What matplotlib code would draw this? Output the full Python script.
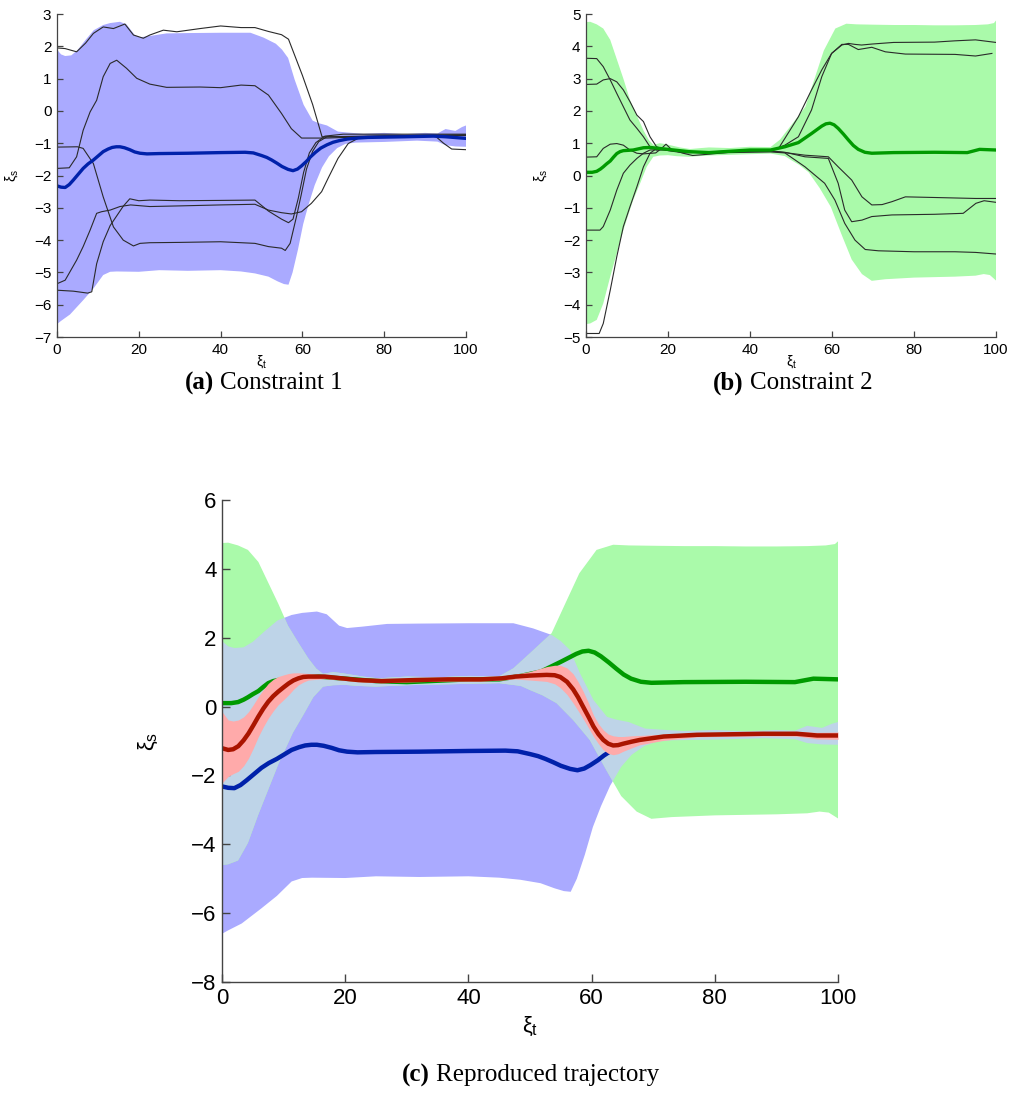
import numpy as np
import matplotlib
matplotlib.use("Agg")
import matplotlib.pyplot as plt

plt.rcParams["font.family"] = ["Liberation Sans", "DejaVu Sans"]
plt.rcParams["mathtext.fontset"] = "custom"
plt.rcParams["mathtext.rm"] = "Liberation Sans"
plt.rcParams["mathtext.it"] = "Liberation Sans"

# ---- constraint 1 (blue): band edges, mean, demonstrations ----
bx_up = [0, 1, 2, 3.5, 5, 7, 9, 11.3, 13, 15.4, 17, 19, 20.3, 22.7, 26.8, 32, 40, 47.3, 50.5,
         53.5, 55, 56.5, 58.1, 60.3, 62.5, 64, 66, 68.7, 71.2, 75, 80, 85, 90, 93, 95, 97.4, 99, 100]
by_up = [1.9, 1.75, 1.7, 1.72, 1.88, 2.2, 2.5, 2.66, 2.72, 2.76, 2.68, 2.35, 2.28, 2.32, 2.40, 2.41,
         2.42, 2.42, 2.27, 2.08, 1.9, 1.64, 0.97, 0.19, -0.3, -0.38, -0.45, -0.64, -0.67, -0.71,
         -0.68, -0.72, -0.68, -0.7, -0.56, -0.62, -0.5, -0.45]
bx_lo = [0, 1, 3.2, 6.4, 8.9, 11.3, 13, 14.6, 20, 25, 32, 40, 45, 48.4, 51.7, 54, 55.5, 56.6,
         57.6, 58.9, 60.2, 61.5, 63, 64.8, 66.5, 68.5, 70.5, 73, 80, 88, 93, 95, 97.4, 100]
by_lo = [-6.6, -6.5, -6.3, -5.86, -5.5, -5.08, -4.98, -4.97, -4.98, -4.93, -4.95, -4.93, -4.97,
         -5.03, -5.13, -5.28, -5.36, -5.38, -5.0, -4.3, -3.5, -2.9, -2.3, -1.75, -1.4, -1.15,
         -1.02, -0.98, -0.96, -0.92, -0.95, -1.06, -1.1, -1.11]
bmx = [0, 1, 2, 3, 4, 5.2, 6.4, 7.6, 8.9, 10.1, 11.3, 12.5, 13.5, 14.5, 15.4, 16.5, 17.8, 19,
       20.3, 22, 25, 32, 40, 46, 48, 50, 51.3, 52.5, 53.8, 55, 56.5, 57.7, 58.8, 59.8, 61, 62,
       63.2, 64.5, 66, 67.5, 69, 71, 73.5, 76, 85, 92, 95, 100]
bmy = [-2.32, -2.36, -2.37, -2.28, -2.14, -1.96, -1.78, -1.64, -1.52, -1.39, -1.26, -1.18, -1.13,
       -1.11, -1.11, -1.14, -1.2, -1.27, -1.31, -1.33, -1.32, -1.31, -1.29, -1.28, -1.3, -1.38,
       -1.44, -1.52, -1.62, -1.72, -1.81, -1.85, -1.8, -1.7, -1.56, -1.42, -1.28, -1.15, -1.05,
       -0.97, -0.92, -0.87, -0.84, -0.82, -0.8, -0.78, -0.8, -0.85]

a1x = [0, 2, 4.8, 7, 8.9, 11.3, 13.8, 16.6, 18.7, 21.1, 22.7, 26, 29.3, 35, 40, 45, 48.4, 51.7,
       54.9, 56.6, 60, 62.5, 64.8, 70, 75, 85, 92.5, 94.5, 96.5, 100]
a1y = [1.95, 1.93, 1.83, 2.1, 2.4, 2.6, 2.55, 2.69, 2.35, 2.25, 2.35, 2.5, 2.45, 2.55, 2.63, 2.58,
       2.58, 2.46, 2.36, 2.22, 1.1, 0.2, -0.8, -0.8, -0.79, -0.78, -0.78, -1.0, -1.18, -1.2]
a2x = [0, 3, 4.8, 6.4, 8.1, 9.7, 11.3, 13, 14.6, 17, 19.5, 22.7, 26.8, 35, 40, 45, 48.4, 51.7,
       54.9, 57.3, 59.8, 66, 80, 100]
a2y = [-1.78, -1.76, -1.42, -0.6, -0.03, 0.33, 1.06, 1.47, 1.57, 1.32, 1.01, 0.83, 0.73, 0.74,
       0.72, 0.8, 0.78, 0.49, -0.08, -0.55, -0.84, -0.84, -0.78, -0.74]
a3x = [0, 5, 6.4, 8.9, 11.3, 13.8, 16.2, 18.7, 20.3, 22.7, 30, 40, 48.4, 51.7, 54.9, 55.8, 57,
       58.5, 59.7, 61, 62.5, 64, 66, 80, 100]
a3y = [-1.12, -1.11, -1.16, -1.63, -2.66, -3.59, -4.0, -4.18, -4.1, -4.08, -4.07, -4.05, -4.1,
       -4.2, -4.25, -4.32, -4.1, -3.3, -2.6, -1.8, -1.25, -0.95, -0.8, -0.77, -0.75]
a4x = [0, 2, 4.8, 6.4, 8.1, 9.7, 10.9, 13, 15.4, 18, 22.7, 30, 40, 48.4, 51.7, 54.9, 57.3, 59.8,
       62.2, 64.7, 66.3, 68.7, 71.2, 73.6, 78, 90, 100]
a4y = [-5.35, -5.24, -4.62, -4.2, -3.69, -3.17, -3.12, -3.07, -2.96, -2.91, -2.96, -2.94, -2.91,
       -2.89, -3.07, -3.15, -3.19, -3.12, -2.86, -2.5, -2.08, -1.47, -1.01, -0.85, -0.82, -0.78, -0.76]
a5x = [0, 4, 7.5, 8.5, 9.7, 11.3, 13, 14.6, 16.2, 17.8, 20, 22.7, 30, 40, 48.4, 51.7, 54.9, 56.6,
       57.7, 59, 60.3, 61.7, 63.3, 65.5, 70, 85, 100]
a5y = [-5.55, -5.58, -5.64, -5.6, -4.73, -4.05, -3.55, -3.25, -2.95, -2.72, -2.78, -2.76, -2.78,
       -2.77, -2.76, -3.1, -3.35, -3.46, -3.35, -2.7, -1.9, -1.3, -0.98, -0.78, -0.72, -0.72, -0.72]

# ---- constraint 2 (green) ----
gx_up = [0, 1, 2.6, 4.2, 5.9, 7.5, 9.1, 10.7, 12.4, 14, 15.3, 16.4, 18, 19, 20.5, 22.9, 25.4, 28,
         30, 35, 40, 45, 47.3, 50, 53.5, 56, 58, 60.8, 63.5, 66, 70, 75, 80, 85, 90, 95, 98, 99.5, 100]
gy_up = [4.75, 4.76, 4.68, 4.55, 4.2, 3.6, 3.0, 2.35, 1.85, 1.4, 1.1, 0.95, 1.0, 0.98, 0.94, 0.87,
         0.82, 0.85, 0.87, 0.85, 0.89, 0.88, 1.11, 1.55, 2.13, 3.1, 3.87, 4.55, 4.7, 4.68, 4.67,
         4.66, 4.66, 4.65, 4.65, 4.66, 4.68, 4.72, 4.8]
gx_lo = [0, 1, 2.6, 4.2, 5.9, 7.5, 9.1, 11.5, 13.2, 14.8, 16.4, 18, 20, 22, 25, 30, 35, 40, 45,
         48.5, 50, 52, 54.3, 57, 59.7, 62.4, 64.8, 67.3, 69.7, 73, 80, 90, 95, 97, 98.5, 100]
gy_lo = [-4.6, -4.58, -4.47, -3.96, -3.13, -2.41, -1.69, -0.76, -0.24, 0.27, 0.58, 0.62, 0.63,
         0.6, 0.58, 0.62, 0.64, 0.66, 0.68, 0.6, 0.48, 0.33, 0.1, -0.39, -0.97, -1.85, -2.6,
         -3.05, -3.26, -3.21, -3.16, -3.13, -3.1, -3.05, -3.08, -3.25]
gmx = [0, 1.5, 2.6, 3.5, 4.2, 5, 5.9, 6.7, 7.5, 8.3, 9.1, 11.5, 14, 15.6, 20, 25, 30, 35, 40, 45,
       48.5, 51.8, 55, 57.5, 58.5, 59.5, 60.5, 61.5, 62.8, 64, 65.2, 66.4, 68, 69.7, 75, 85, 93,
       96, 100]
gmy = [0.1, 0.1, 0.13, 0.2, 0.27, 0.36, 0.45, 0.57, 0.68, 0.74, 0.77, 0.79, 0.86, 0.87, 0.81,
       0.74, 0.71, 0.75, 0.79, 0.79, 0.89, 1.02, 1.3, 1.53, 1.6, 1.62, 1.57, 1.46, 1.28, 1.1,
       0.93, 0.81, 0.72, 0.69, 0.71, 0.72, 0.71, 0.81, 0.79]

b1x = [0, 2.6, 4.2, 5.9, 7.5, 9.1, 10.7, 12.4, 14, 15.6, 17.2, 20, 23, 26, 30, 35, 40, 45, 47,
       48.5, 51.8, 55, 57.5, 59.9, 62.4, 64, 65.6, 67.2, 69.7, 75, 85, 90, 95, 100]
b1y = [3.63, 3.62, 3.37, 2.96, 2.54, 2.13, 1.72, 1.46, 1.2, 0.89, 0.79, 0.8, 0.75, 0.72, 0.73,
       0.76, 0.78, 0.78, 0.85, 1.15, 1.82, 2.65, 3.27, 3.78, 4.04, 4.09, 4.06, 4.04, 4.07, 4.12,
       4.13, 4.17, 4.2, 4.12]
b2x = [0, 2.6, 4.2, 5.9, 7.5, 9.1, 10.7, 12.4, 14, 15.6, 17.2, 20, 24, 28, 33, 40, 45, 48.5,
       51.8, 55, 57.5, 59.9, 62.4, 64, 66.4, 69.7, 73, 77.9, 90, 95, 99]
b2y = [2.82, 2.83, 2.96, 3.0, 2.9, 2.65, 2.29, 1.87, 1.67, 1.2, 0.89, 0.77, 0.7, 0.72, 0.74,
       0.76, 0.77, 0.94, 1.2, 2.03, 3.06, 3.78, 4.06, 4.06, 3.9, 3.97, 3.83, 3.76, 3.75, 3.7, 3.78]
b3x = [0, 2.6, 4.2, 5.9, 7.5, 9.1, 10.7, 12.4, 14, 17, 18.5, 19.5, 21, 24, 26, 30, 35, 40, 45,
       48.5, 53.4, 59.1, 61.5, 64.8, 67.3, 69.7, 72.2, 74.6, 77.9, 85, 95, 100]
b3y = [0.57, 0.58, 0.84, 0.97, 0.99, 0.94, 0.79, 0.69, 0.67, 0.7, 0.85, 0.97, 0.79, 0.68, 0.62,
       0.66, 0.72, 0.76, 0.76, 0.71, 0.63, 0.58, 0.27, -0.14, -0.66, -0.91, -0.9, -0.81, -0.66,
       -0.68, -0.71, -0.71]
b4x = [0, 3.4, 4.2, 5.9, 7.5, 9.1, 10.7, 12.4, 14, 15.6, 18, 22, 27, 32, 40, 45, 48.5, 53.4,
       59.1, 61.5, 63.1, 64.8, 67.3, 69.7, 74.6, 85, 92, 95.1, 97.1, 100]
b4y = [-1.69, -1.69, -1.58, -1.07, -0.45, 0.07, 0.32, 0.53, 0.69, 0.79, 0.8, 0.78, 0.73, 0.74,
       0.76, 0.76, 0.72, 0.58, 0.53, -0.24, -1.07, -1.43, -1.38, -1.27, -1.22, -1.2, -1.17,
       -0.86, -0.78, -0.83]
b5x = [0, 3.2, 4.2, 5.9, 7.5, 9.1, 10.7, 12.4, 14, 15.6, 17.2, 20, 25, 30, 40, 45, 48.5, 53.4,
       58.2, 60.7, 63.1, 65.6, 68.1, 71.3, 80, 90, 95, 100]
b5y = [-4.89, -4.89, -4.58, -3.55, -2.51, -1.58, -0.97, -0.35, 0.27, 0.69, 0.84, 0.78, 0.72,
       0.7, 0.72, 0.73, 0.7, 0.27, -0.24, -0.76, -1.48, -2.0, -2.29, -2.33, -2.36, -2.36, -2.38, -2.43]

# ---- reproduced trajectory (red): x, mean, upper and lower band edge ----
rx = [0, 1, 1.8, 2.65, 3.5, 4.3, 5.1, 5.9, 6.7, 7.5, 8.3, 9.1, 10, 10.8, 11.6, 12.4, 13.2, 14,
      16.7, 19.4, 22.1, 25.9, 31.3, 36.7, 42, 45.4, 47.6, 50, 52.7, 54, 54.9, 56, 57, 57.8,
      58.6, 59.5, 60.3, 61.1, 61.9, 62.7, 63.5, 64.3, 65.1, 66.5, 67.8, 71.7, 77.1, 87.9,
      93.3, 96.6, 100]
ry = [-1.21, -1.26, -1.24, -1.15, -0.98, -0.78, -0.54, -0.29, -0.06, 0.14, 0.3, 0.43, 0.56,
      0.67, 0.76, 0.82, 0.86, 0.87, 0.87, 0.82, 0.77, 0.74, 0.77, 0.79, 0.79, 0.82, 0.87, 0.9,
      0.92, 0.91, 0.86, 0.72, 0.5, 0.27, 0.0, -0.3, -0.58, -0.8, -0.97, -1.08, -1.13, -1.12,
      -1.08, -1.02, -0.97, -0.87, -0.82, -0.79, -0.79, -0.84, -0.84]
r_up = [-0.15, -0.39, -0.42, -0.39, -0.3, -0.15, 0.06, 0.29, 0.49, 0.67, 0.79, 0.87, 0.92, 0.96,
        0.98, 0.98, 0.97, 0.96, 0.92, 0.87, 0.82, 0.79, 0.82, 0.84, 0.84, 0.87, 0.94, 1.02,
        1.16, 1.2, 1.2, 1.12, 0.95, 0.72, 0.45, 0.1, -0.25, -0.5, -0.68, -0.8, -0.85, -0.87,
        -0.87, -0.85, -0.84, -0.8, -0.77, -0.73, -0.72, -0.75, -0.74]
r_lo = [-2.22, -2.03, -1.95, -1.88, -1.72, -1.5, -1.2, -0.87, -0.59, -0.34, -0.13, 0.05, 0.2,
        0.34, 0.5, 0.63, 0.71, 0.77, 0.81, 0.77, 0.72, 0.69, 0.72, 0.74, 0.74, 0.77, 0.8, 0.77,
        0.73, 0.66, 0.55, 0.35, 0.1, -0.12, -0.35, -0.62, -0.87, -1.08, -1.26, -1.36, -1.4,
        -1.37, -1.3, -1.2, -1.11, -0.98, -0.88, -0.85, -0.86, -0.94, -0.95]

BLUE_F, GREEN_F, OVER_F, RED_F = "#aaaaff", "#aafaaa", "#bed4e8", "#ffaaaa"
BLUE_L, GREEN_L, RED_L = "#0021aa", "#009a00", "#aa1400"
W, H = 1012, 1095


def band(ax, xu, yu, xl, yl, color):
    xs = np.r_[xu, xl[::-1]]
    ys = np.r_[yu, yl[::-1]]
    patch, = ax.fill(xs, ys, color=color, lw=0, zorder=1)
    return patch


def style(ax, ylim, fs, tl, lw):
    ax.set_xlim(0, 100)
    ax.set_ylim(*ylim)
    ax.set_xticks(range(0, 101, 20))
    for s in ("top", "right"):
        ax.spines[s].set_visible(False)
    for s in ("left", "bottom"):
        ax.spines[s].set_color("#444444")
        ax.spines[s].set_linewidth(lw)
        ax.spines[s].set_zorder(5)
    ax.tick_params(direction="in", length=tl, width=lw, color="#444444",
                   labelsize=fs, pad=4)


fig = plt.figure(figsize=(W / 100, H / 100), dpi=100)
demo_a = [(a1x, a1y), (a2x, a2y), (a3x, a3y), (a4x, a4y), (a5x, a5y)]
demo_b = [(b1x, b1y), (b2x, b2y), (b3x, b3y), (b4x, b4y), (b5x, b5y)]

# (a)
ax = fig.add_axes([0.0563, 0.6922, 0.4042, 0.2950])
band(ax, bx_up, by_up, bx_lo, by_lo, BLUE_F)
for x, y in demo_a:
    ax.plot(x, y, color="#2a2a2a", lw=0.8, zorder=2)
ax.plot(bmx, bmy, color=BLUE_L, lw=2.4, zorder=3)
style(ax, (-7, 3), 11, 4, 0.9)
ax.set_yticks(range(-7, 4))
ax.set_xlabel(r"$\xi_\mathrm{t}$", fontsize=10)
ax.set_ylabel(r"$\xi_\mathrm{s}$", fontsize=10)
ax.xaxis.set_label_coords(0.5, -0.05)
ax.yaxis.set_label_coords(-0.09, 0.5)

# (b)
ax = fig.add_axes([0.5791, 0.6922, 0.4051, 0.2950])
band(ax, gx_up, gy_up, gx_lo, gy_lo, GREEN_F)
for x, y in demo_b:
    ax.plot(x, y, color="#2a2a2a", lw=0.8, zorder=2)
ax.plot(gmx, gmy, color=GREEN_L, lw=2.4, zorder=3)
style(ax, (-5, 5), 11, 4, 0.9)
ax.set_yticks(range(-5, 6))
ax.set_xlabel(r"$\xi_\mathrm{t}$", fontsize=10)
ax.set_ylabel(r"$\xi_\mathrm{s}$", fontsize=10)
ax.xaxis.set_label_coords(0.5, -0.05)
ax.yaxis.set_label_coords(-0.09, 0.5)

# (c)
ax = fig.add_axes([0.2194, 0.1032, 0.6087, 0.4402])
band(ax, bx_up, by_up, bx_lo, by_lo, BLUE_F)
gpatch = band(ax, gx_up, gy_up, gx_lo, gy_lo, GREEN_F)
over = band(ax, bx_up, by_up, bx_lo, by_lo, OVER_F)
over.set_clip_path(gpatch)
bm = np.array(bmx) <= 63.5
ax.plot(np.array(bmx)[bm], np.array(bmy)[bm], color=BLUE_L, lw=3.2, zorder=3)
ax.plot(gmx, gmy, color=GREEN_L, lw=3.2, zorder=3)
ax.fill_between(rx, r_lo, r_up, color=RED_F, lw=0, zorder=4)
ax.plot(rx, ry, color=RED_L, lw=3.2, zorder=4)
style(ax, (-8, 6), 16, 6, 1.0)
ax.set_yticks(range(-8, 7, 2))
ax.set_xlabel(r"$\xi_\mathrm{t}$", fontsize=16)
ax.set_ylabel(r"$\xi_\mathrm{s}$", fontsize=16)
ax.xaxis.set_label_coords(0.5, -0.068)
ax.yaxis.set_label_coords(-0.1, 0.5)

# captions: bold tag followed by plain text
cap = dict(family=["Liberation Serif", "DejaVu Serif"], fontsize=18, va="center")
fig.canvas.draw()
renderer = fig.canvas.get_renderer()
for x0, y0, tag, txt in [(185, 383, "(a)", "Constraint 1"),
                         (713, 383, "(b)", "Constraint 2"),
                         (402, 1075, "(c)", "Reproduced trajectory")]:
    t = fig.text(x0 / W, 1 - y0 / H, tag, ha="left", weight="bold", **cap)
    bb = t.get_window_extent(renderer)
    fig.text((bb.x1 + 6) / W, 1 - y0 / H, txt, ha="left", **cap)

fig.savefig("out.png", dpi=100)
